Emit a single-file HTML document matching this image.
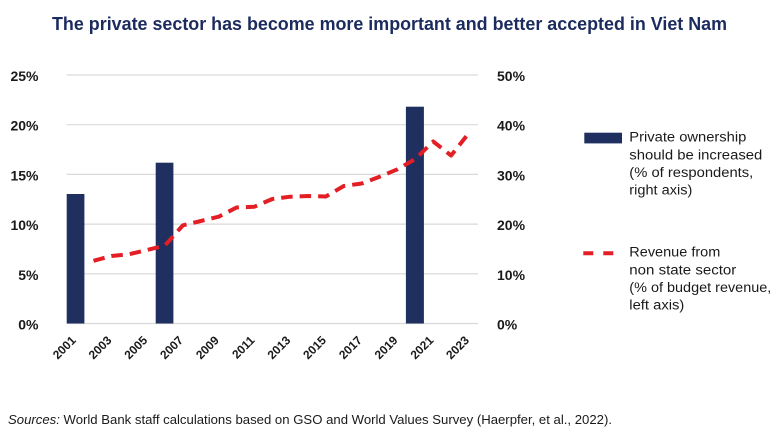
<!DOCTYPE html>
<html><head><meta charset="utf-8"><style>
html,body{margin:0;padding:0;background:#fff;}
svg{display:block;font-family:"Liberation Sans",Arial,sans-serif;}
</style></head><body>
<svg width="780" height="439" viewBox="0 0 780 439" xmlns="http://www.w3.org/2000/svg">
<rect width="780" height="439" fill="#fff"/>
<text x="52" y="30" font-size="18.5" font-weight="bold" fill="#1c2b5e" textLength="675" lengthAdjust="spacingAndGlyphs">The private sector has become more important and better accepted in Viet Nam</text>

<g stroke="#d9d9d9" stroke-width="1.2">
<line x1="66.7" y1="75" x2="478" y2="75"/>
<line x1="66.7" y1="124.7" x2="478" y2="124.7"/>
<line x1="66.7" y1="174.4" x2="478" y2="174.4"/>
<line x1="66.7" y1="224.1" x2="478" y2="224.1"/>
<line x1="66.7" y1="273.8" x2="478" y2="273.8"/>
<line x1="66.7" y1="323.5" x2="478" y2="323.5"/>
</g>

<g font-size="14" font-weight="bold" fill="#1a1a1a" text-anchor="end">
<text x="38.5" y="81">25%</text>
<text x="38.5" y="130.7">20%</text>
<text x="38.5" y="180.4">15%</text>
<text x="38.5" y="230.1">10%</text>
<text x="38.5" y="279.8">5%</text>
<text x="38.5" y="329.5">0%</text>
</g>
<g font-size="14" font-weight="bold" fill="#1a1a1a">
<text x="497" y="81">50%</text>
<text x="497" y="130.7">40%</text>
<text x="497" y="180.4">30%</text>
<text x="497" y="230.1">20%</text>
<text x="497" y="279.8">10%</text>
<text x="497" y="329.5">0%</text>
</g>

<g fill="#1e2f60">
<rect x="66.7" y="194" width="17.7" height="129.5"/>
<rect x="155.7" y="162.7" width="17.7" height="160.8"/>
<rect x="405.9" y="106.7" width="18" height="216.8"/>
</g>

<polyline fill="none" stroke="#e31e24" stroke-width="4" stroke-dasharray="11.5 7" stroke-linejoin="round"
points="93.5,260.8 111.4,256 129.3,254.2 147.1,250 165,245.5 182.9,225.3 200.8,221 218.7,216.7 236.5,207.5 254.4,206.7 272.3,199 290.2,196.7 308,196 325.9,196.5 343.8,186 361.7,183.5 379.6,176.7 397.4,169.3 415.3,159 433.2,141.5 451.1,155.5 468.9,133"/>

<g font-size="12" font-weight="bold" fill="#1a1a1a" text-anchor="end">
<text transform="translate(76.6,341) rotate(-45)">2001</text>
<text transform="translate(112.4,341) rotate(-45)">2003</text>
<text transform="translate(148.1,341) rotate(-45)">2005</text>
<text transform="translate(183.9,341) rotate(-45)">2007</text>
<text transform="translate(219.7,341) rotate(-45)">2009</text>
<text transform="translate(255.4,341) rotate(-45)">2011</text>
<text transform="translate(291.2,341) rotate(-45)">2013</text>
<text transform="translate(326.9,341) rotate(-45)">2015</text>
<text transform="translate(362.7,341) rotate(-45)">2017</text>
<text transform="translate(398.4,341) rotate(-45)">2019</text>
<text transform="translate(434.2,341) rotate(-45)">2021</text>
<text transform="translate(469.9,341) rotate(-45)">2023</text>
</g>

<rect x="584.3" y="132.7" width="37.7" height="10.7" fill="#1e2f60"/>
<line x1="583.3" y1="253.3" x2="614" y2="253.3" stroke="#e31e24" stroke-width="4" stroke-dasharray="10 10"/>
<g font-size="13.5" fill="#1a1a1a">
<text x="629.3" y="141.7" textLength="117" lengthAdjust="spacingAndGlyphs">Private ownership</text>
<text x="629.3" y="159.3" textLength="133" lengthAdjust="spacingAndGlyphs">should be increased</text>
<text x="629.3" y="177" textLength="124" lengthAdjust="spacingAndGlyphs">(% of respondents,</text>
<text x="629.3" y="194.5" textLength="63" lengthAdjust="spacingAndGlyphs">right axis)</text>
<text x="629.3" y="256.7" textLength="91" lengthAdjust="spacingAndGlyphs">Revenue from</text>
<text x="629.3" y="274.3" textLength="107" lengthAdjust="spacingAndGlyphs">non state sector</text>
<text x="629.3" y="292" textLength="142" lengthAdjust="spacingAndGlyphs">(% of budget revenue,</text>
<text x="629.3" y="309.5" textLength="55" lengthAdjust="spacingAndGlyphs">left axis)</text>
</g>

<text x="8" y="424" font-size="13" fill="#1a1a1a" textLength="604" lengthAdjust="spacingAndGlyphs"><tspan font-style="italic">Sources:</tspan> World Bank staff calculations based on GSO and World Values Survey (Haerpfer, et al., 2022).</text>
</svg>
</body></html>
